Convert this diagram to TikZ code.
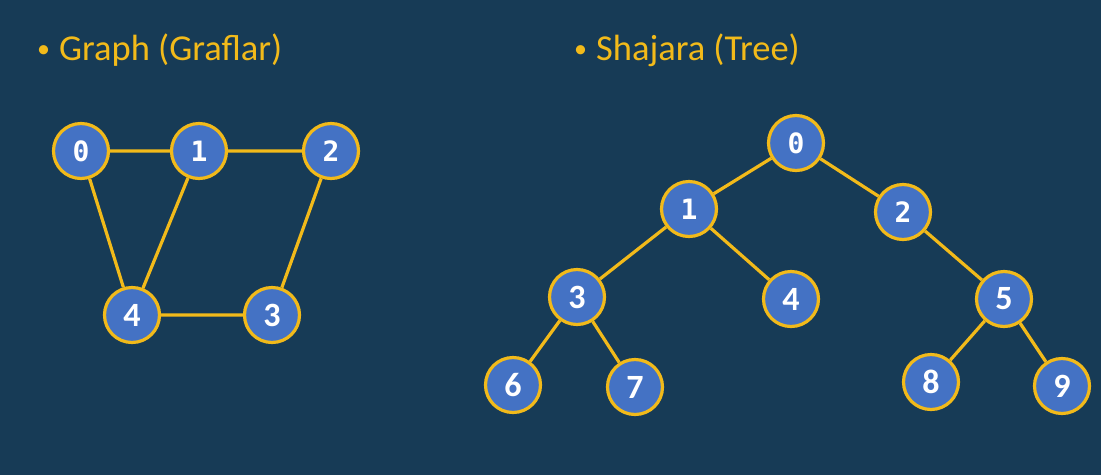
\documentclass[tikz,border=0pt]{standalone}
\usepackage{fontspec}
\setmainfont{Carlito}
\newfontfamily\monof{DejaVu Sans Mono}
\definecolor{bg}{HTML}{173B56}
\definecolor{nfill}{HTML}{4472C4}
\definecolor{ylw}{HTML}{F2BA1A}
\newcommand{\smallbul}{\raisebox{3pt}{\fontsize{26}{26}\selectfont\textbullet}}
\begin{document}
\begin{tikzpicture}[x=1pt,y=-1pt,
  vtx/.style={circle,draw=ylw,fill=nfill,line width=3.2pt,minimum size=55pt,inner sep=0pt,text=white},
  mono/.style={vtx,font=\monof\bfseries\fontsize{28}{28}\selectfont},
  sans/.style={vtx,font=\bfseries\fontsize{34}{34}\selectfont},
  edge/.style={draw=ylw,line width=3.2pt},
  ttl/.style={anchor=base west,text=ylw,font=\fontsize{36.5}{36.5}\selectfont,inner sep=0pt}]
\fill[bg] (0,0) rectangle (1101,475);
\useasboundingbox (0,0) rectangle (1101,475);
\node[ttl] (t1) at (37,60) {\smallbul\hspace{9pt}Graph (Graflar)};
\node[ttl] (t2) at (574,60) {\smallbul\hspace{9pt}Shajara (Tree)};
% graph
\node[mono] (g0) at (81,151) {0};
\node[mono] (g1) at (199,151) {1};
\node[mono] (g2) at (331,151) {2};
\node[sans] (g4) at (132,315) {4};
\node[sans] (g3) at (272,315) {3};
\draw[edge] (g0)--(g1) (g1)--(g2) (g0)--(g4) (g1)--(g4) (g2)--(g3) (g4)--(g3);
% tree
\node[mono] (a0) at (796,143) {0};
\node[mono] (a1) at (689,209) {1};
\node[mono] (a2) at (903,212) {2};
\node[sans] (a3) at (577,297) {3};
\node[sans] (a4) at (791,299) {4};
\node[sans] (a5) at (1004,299) {5};
\node[sans] (a6) at (513,385) {6};
\node[sans] (a7) at (635,387) {7};
\node[sans] (a8) at (931,382) {8};
\node[sans] (a9) at (1062,386) {9};
\draw[edge] (a0)--(a1) (a0)--(a2) (a1)--(a3) (a1)--(a4) (a2)--(a5) (a3)--(a6) (a3)--(a7) (a5)--(a8) (a5)--(a9);
\end{tikzpicture}
\end{document}
